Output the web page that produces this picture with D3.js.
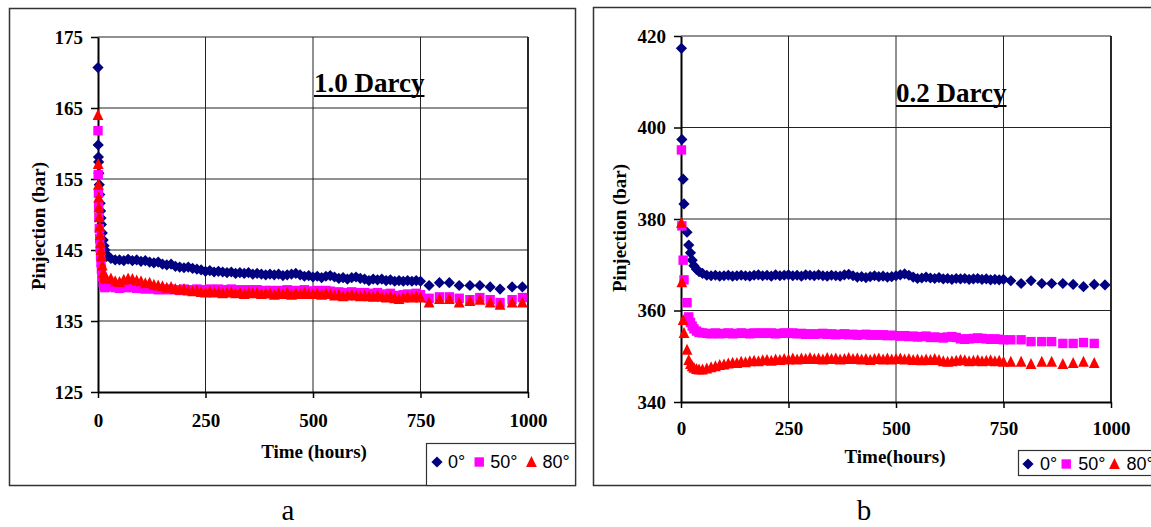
<!DOCTYPE html>
<html>
<head>
<meta charset="utf-8">
<script src="https://cdn.jsdelivr.net/npm/d3@7"></script>
<style>
  body { margin: 0; background: #fff; }
  svg text { font-family: "Liberation Serif", "Times New Roman", serif; }
</style>
</head>
<body>
<svg id="fig" width="1151" height="527"></svg>
<script>
// ---- chart a : 1.0 Darcy ----
var hoursA = [0, 0.5, 1, 1.5, 2, 3, 4, 5, 6, 7, 8, 10, 12, 14, 16, 18, 20,
  30, 40, 50, 60, 70, 80, 90, 100, 110, 120,
  130, 140, 150, 160, 170, 180, 190, 200, 210, 220,
  230, 240, 250, 260, 270, 280, 290, 300, 310, 320,
  330, 340, 350, 360, 370, 380, 390, 400, 410, 420,
  430, 440, 450, 460, 470, 480, 490, 500, 510, 520,
  530, 540, 550, 560, 570, 580, 590, 600, 610, 620,
  630, 640, 650, 660, 670, 680, 690, 700, 710, 720,
  730, 740, 750,
  770, 794, 817, 840, 865, 888, 912, 935, 963, 987];

var a0 = [170.7, 159.8, 158.1, 157.4, 155.8, 154.2, 152.8, 151.6, 150.5, 149.5, 148.6, 147.4, 146.4, 145.6, 145.0, 144.5, 144.1,
  143.8, 143.6, 143.6, 143.5, 143.7, 143.5, 143.6, 143.4, 143.5, 143.3,
  143.2, 143.3, 143.0, 142.9, 143.0, 142.7, 142.6, 142.5, 142.6, 142.4,
  142.3, 142.2, 142.0, 142.1, 141.9, 142.0, 141.9, 141.8, 141.9, 141.7,
  141.8, 141.7, 141.8, 141.6, 141.7, 141.6, 141.5, 141.6, 141.5, 141.6,
  141.4, 141.5, 141.6, 141.7, 141.5, 141.3, 141.4, 141.2, 141.3, 141.1,
  141.3, 141.4, 141.2, 141.0, 141.1, 140.9, 141.1, 141.2, 141.0, 140.9,
  140.7, 140.9, 140.8, 140.9, 140.7, 140.8, 140.6, 140.7, 140.6, 140.7,
  140.6, 140.7, 140.6,
  140.0, 140.4, 140.4, 140.0, 140.0, 140.0, 139.8, 139.5, 139.8, 139.8];

var a50 = [161.8, 155.6, 153.0, 151.2, 149.6, 148.0, 146.6, 145.3, 144.2, 143.2, 142.3, 141.2, 140.4, 139.9, 139.7, 139.8, 139.9,
  139.9, 139.7, 139.6, 139.7, 139.8, 139.7, 139.6, 139.6, 139.5, 139.6,
  139.5, 139.4, 139.5, 139.4, 139.5, 139.4, 139.3, 139.5, 139.4, 139.3,
  139.5, 139.4, 139.4, 139.5, 139.4, 139.5, 139.3, 139.4, 139.5, 139.3,
  139.4, 139.3, 139.4, 139.3, 139.4, 139.2, 139.3, 139.3, 139.2, 139.3,
  139.2, 139.4, 139.2, 139.3, 139.2, 139.4, 139.2, 139.2, 139.3, 139.1,
  139.3, 139.2, 139.0, 139.1, 138.9, 139.0, 139.1, 139.0, 138.9, 139.0,
  138.9, 138.8, 139.0, 138.8, 138.7, 138.9, 138.6, 138.5, 138.7, 138.8,
  138.7, 138.9, 138.7,
  138.2, 138.4, 138.4, 138.2, 138.0, 138.3, 138.0, 137.6, 138.0, 138.3];

var a80 = [164.0, 157.1, 154.2, 152.4, 151.0, 149.6, 148.3, 147.1, 146.0, 145.0, 144.1, 142.8, 141.8, 141.3, 141.1, 141.0, 141.0,
  141.0, 140.6, 140.5, 140.8, 141.0, 140.9, 140.7, 140.6, 140.3, 140.4,
  140.1, 140.0, 139.9, 139.7, 139.8, 139.5, 139.4, 139.5, 139.3, 139.2,
  139.3, 139.1, 139.0, 139.2, 139.0, 139.1, 138.9, 139.0, 139.1, 138.9,
  139.0, 138.8, 139.0, 138.9, 139.0, 138.8, 138.9, 138.9, 138.7, 138.9,
  138.8, 139.0, 138.7, 138.9, 138.8, 139.0, 138.8, 138.8, 138.9, 138.7,
  138.9, 138.8, 138.6, 138.7, 138.5, 138.6, 138.7, 138.6, 138.5, 138.6,
  138.5, 138.4, 138.6, 138.4, 138.3, 138.5, 138.2, 138.1, 138.3, 138.4,
  138.3, 138.5, 138.3,
  137.6, 138.1, 138.1, 137.6, 137.8, 138.0, 137.6, 137.3, 137.6, 137.6];

// ---- chart b : 0.2 Darcy ----
var hoursB = [1, 2, 5, 7, 14, 18, 22, 26, 30, 36, 42, 50,
  60, 70, 80, 90, 100, 110, 120, 130, 140, 150,
  160, 170, 180, 190, 200, 210, 220, 230, 240, 250,
  260, 270, 280, 290, 300, 310, 320, 330, 340, 350,
  360, 370, 380, 390, 400, 410, 420, 430, 440, 450,
  460, 470, 480, 490, 500, 510, 520, 530, 540, 550,
  560, 570, 580, 590, 600, 610, 620, 630, 640, 650,
  660, 670, 680, 690, 700, 710, 720, 730, 740, 750,
  767, 791, 814, 839, 862, 888, 912, 936, 961, 986];

var b0 = [417.3, 397.4, 388.7, 383.3, 377.1, 374.3, 372.6, 371.0, 369.8, 369.0, 368.5, 368.1,
  367.7, 367.6, 367.7, 367.5, 367.6, 367.7, 367.5, 367.6, 367.7, 367.6,
  367.5, 367.7, 367.8, 367.6, 367.7, 367.5, 367.8, 367.6, 367.7, 367.8,
  367.6, 367.7, 367.5, 367.8, 367.7, 367.6, 367.8, 367.6, 367.5, 367.7,
  367.6, 367.5, 367.8, 367.9, 367.6, 367.3, 367.4, 367.2, 367.4, 367.6,
  367.4, 367.5, 367.3, 367.4, 367.6, 367.8, 368.0, 367.7, 367.3, 367.0,
  367.1, 367.3, 367.1, 367.0, 367.2, 366.9, 367.0, 366.8, 367.0, 366.9,
  367.0, 366.8, 366.9, 367.0, 366.8, 366.9, 366.7, 366.8, 366.7, 366.8,
  366.5, 365.9, 366.5, 365.9, 365.9, 365.9, 365.7, 365.2, 365.7, 365.6];

var b50 = [395.1, 378.5, 371.0, 366.7, 361.7, 358.6, 357.4, 356.6, 356.0, 355.5, 355.2, 355.1,
  355.0, 354.9, 355.1, 354.9, 355.0, 355.1, 354.9, 355.0, 355.1, 355.0,
  354.9, 355.1, 355.0, 355.1, 355.0, 355.1, 354.9, 355.0, 355.1, 355.0,
  355.1, 354.9, 355.0, 354.8, 354.9, 354.8, 354.9, 355.0, 354.8, 354.9,
  354.7, 354.8, 354.9, 354.7, 354.8, 354.6, 354.7, 354.8, 354.6, 354.7,
  354.6, 354.7, 354.5, 354.6, 354.5, 354.4, 354.5, 354.3, 354.4, 354.2,
  354.3, 354.4, 354.1, 354.2, 354.1, 354.0, 354.2, 354.3, 354.1, 353.8,
  353.7, 353.8, 353.9, 354.0, 353.9, 353.8, 353.7, 353.8, 353.7, 353.6,
  353.6, 353.6, 353.2, 353.2, 353.2, 352.8, 352.8, 353.0, 352.8];

var b80 = [379.2, 366.2, 357.9, 355.1, 351.4, 349.2, 348.3, 347.8, 347.5, 347.2, 347.1, 347.1,
  347.3, 347.6, 347.8, 348.1, 348.2, 348.4, 348.6, 348.5, 348.8, 348.7,
  348.9, 349.0, 348.9, 349.1, 349.2, 349.0, 349.3, 349.2, 349.4, 349.3,
  349.5, 349.3, 349.5, 349.4, 349.6, 349.4, 349.5, 349.3, 349.6, 349.4,
  349.5, 349.3, 349.4, 349.6, 349.4, 349.5, 349.3, 349.4, 349.2, 349.4,
  349.5, 349.3, 349.5, 349.3, 349.4, 349.5, 349.3, 349.4, 349.2, 349.3,
  349.1, 349.3, 349.2, 349.4, 349.2, 348.9, 348.8, 348.9, 349.0, 349.2,
  349.1, 348.9, 349.0, 349.1, 348.9, 349.0, 349.1, 348.9, 349.0, 348.8,
  348.8, 348.8, 348.3, 348.8, 348.8, 348.3, 348.5, 348.8, 348.5];

var xTicks = [0, 250, 500, 750, 1000];
var yTicksA = [125, 135, 145, 155, 165, 175];
var yTicksB = [340, 360, 380, 400, 420];
var seriesNames = ["0°", "50°", "80°"];

var colors = ["#000080", "#ff00ff", "#ff0000"];
var shapeNames = ["diamond", "square", "triangle"];

var svg = d3.select("#fig");

// Excel-like markers: rotated square, square, upward triangle
var shapes = {
  diamond: "M0,-5.6L5.6,0L0,5.6L-5.6,0Z",
  square: "M-4.7,-4.7H4.7V4.7H-4.7Z",
  triangle: "M0,-6L5.4,5H-5.4Z"
};

function drawChart(c) {
  var x = d3.scaleLinear().domain([0, 1000]).range([c.left, c.right]);
  var y = d3.scaleLinear().domain(c.yDomain).range([c.bottom, c.top]);
  var g = svg.append("g");

  // outer frame
  g.append("rect")
    .attr("x", c.frame[0]).attr("y", c.frame[1])
    .attr("width", c.frame[2]).attr("height", c.frame[3])
    .attr("fill", "none").attr("stroke", "#333").attr("stroke-width", 1.5);

  // grid lines
  g.append("g").selectAll("line").data(c.yTicks.slice(1)).join("line")
    .attr("x1", c.left).attr("x2", c.right)
    .attr("y1", function(d) { return y(d); }).attr("y2", function(d) { return y(d); })
    .attr("stroke", "#222").attr("stroke-width", 1);
  g.append("g").selectAll("line").data(xTicks.slice(1)).join("line")
    .attr("x1", function(d) { return x(d); }).attr("x2", function(d) { return x(d); })
    .attr("y1", c.top).attr("y2", c.bottom)
    .attr("stroke", function(d) { return d === 1000 ? "#111" : "#222"; })
    .attr("stroke-width", function(d) { return d === 1000 ? 1.8 : 1; });

  // axes
  var xa = g.append("g")
    .attr("transform", "translate(0," + c.bottom + ")")
    .call(d3.axisBottom(x).tickValues(xTicks).tickSize(6).tickSizeOuter(0).tickFormat(d3.format("d")));
  var ya = g.append("g")
    .attr("transform", "translate(" + c.left + ",0)")
    .call(d3.axisLeft(y).tickValues(c.yTicks).tickSize(7).tickPadding(8).tickSizeOuter(0));

  [xa, ya].forEach(function(a) {
    a.attr("font-family", null).attr("font-size", null);
    a.select(".domain").attr("stroke", "#000").attr("stroke-width", 2);
    a.selectAll(".tick line").attr("stroke", "#000").attr("stroke-width", 1.5);
    a.selectAll("text").attr("fill", "#000")
      .style("font-size", "19px").style("font-weight", "bold");
  });
  xa.selectAll("text").attr("y", c.xLabelOff).attr("dy", "0.35em");
  ya.selectAll("text").attr("dy", "0.34em");

  // axis titles
  g.append("text").attr("x", c.xTitle[0]).attr("y", c.xTitle[1])
    .attr("text-anchor", "middle").style("font-size", "19px").style("font-weight", "bold")
    .text(c.xTitleText);
  g.append("text")
    .attr("transform", "translate(" + c.yTitle[0] + "," + c.yTitle[1] + ") rotate(-90)")
    .attr("text-anchor", "middle").style("font-size", "19px").style("font-weight", "bold")
    .text("Pinjection (bar)");

  // series
  c.series.forEach(function(s, i) {
    var pts = d3.zip(s.hours, s.values);
    g.append("g").selectAll("path").data(pts).join("path")
      .attr("d", shapes[shapeNames[i]])
      .attr("transform", function(d) { return "translate(" + x(d[0]) + "," + y(d[1]) + ")"; })
      .attr("fill", colors[i]);
  });

  // title
  var t = g.append("text").attr("x", c.title[0]).attr("y", c.title[1])
    .style("font-size", "27px").style("font-weight", "bold").text(c.titleText);
  var tw = t.node().getComputedTextLength();
  g.append("line").attr("x1", c.title[0]).attr("x2", c.title[0] + tw)
    .attr("y1", c.title[1] + 4).attr("y2", c.title[1] + 4)
    .attr("stroke", "#000").attr("stroke-width", 2);

  // legend
  g.append("rect")
    .attr("x", c.legendBox[0]).attr("y", c.legendBox[1])
    .attr("width", c.legendBox[2]).attr("height", c.legendBox[3])
    .attr("fill", "#fff").attr("stroke", "#333").attr("stroke-width", 1.2);
  var cx = c.legendStart;
  seriesNames.forEach(function(name, i) {
    g.append("path").attr("d", shapes[shapeNames[i]]).attr("fill", colors[i])
      .attr("transform", "translate(" + cx + "," + c.legendY + ")");
    var lt = g.append("text").attr("x", cx + c.legendTextOff).attr("y", c.legendY).attr("dy", "0.36em")
      .style("font-family", "'Liberation Sans', Arial, sans-serif").style("font-size", "18px")
      .text(name);
    cx = cx + c.legendTextOff + lt.node().getComputedTextLength() + c.legendGap;
  });

  // caption
  svg.append("text").attr("x", c.caption[0]).attr("y", c.caption[1])
    .attr("text-anchor", "middle").style("font-size", "29px").text(c.captionText);
}

drawChart({
  frame: [9.5, 8.5, 566, 477],
  left: 98, right: 528, top: 37, bottom: 392,
  yDomain: [125, 175], yTicks: yTicksA,
  xLabelOff: 28,
  xTitle: [314, 458], xTitleText: "Time (hours)",
  yTitle: [45, 226],
  title: [314, 92], titleText: "1.0 Darcy",
  legendBox: [426.5, 443.5, 149, 42],
  legendStart: 437, legendY: 462, legendTextOff: 11, legendGap: 14,
  caption: [288, 520], captionText: "a",
  series: [
    { hours: hoursA, values: a0 },
    { hours: hoursA, values: a50 },
    { hours: hoursA, values: a80 }
  ]
});

drawChart({
  frame: [593.5, 7.5, 575, 478],
  left: 681, right: 1111, top: 36, bottom: 402,
  yDomain: [340, 420], yTicks: yTicksB,
  xLabelOff: 26,
  xTitle: [895, 463], xTitleText: "Time(hours)",
  yTitle: [626, 228],
  title: [896, 102], titleText: "0.2 Darcy",
  legendBox: [1018.5, 450.5, 150, 25],
  legendStart: 1028, legendY: 464, legendTextOff: 12, legendGap: 9,
  caption: [864, 520], captionText: "b",
  series: [
    { hours: hoursB, values: b0 },
    { hours: hoursB, values: b50 },
    { hours: hoursB, values: b80 }
  ]
});
</script>
</body>
</html>
